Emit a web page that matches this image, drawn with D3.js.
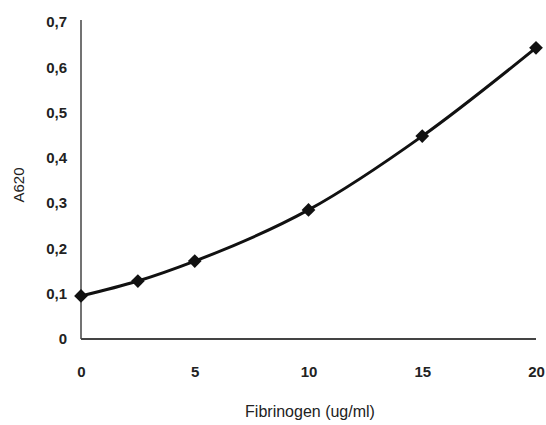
<!DOCTYPE html>
<html>
  <head>
    <meta charset="UTF-8" />
    <script src="https://cdnjs.cloudflare.com/ajax/libs/d3/7.8.5/d3.min.js"></script>
    <style>
      body { margin: 0; padding: 0; background: #fff; }
      svg { display: block; font-family: "Liberation Sans", Arial, sans-serif; }
      .tick text { font-size: 15px; font-weight: bold; fill: #222; }
    </style>
  </head>
  <body>
    <svg id="chart" width="546" height="425"></svg>
    <script>
      // fibrinogen concentration (ug/ml) vs absorbance at 620 nm
      const conc = [0, 2.5, 5, 10, 15, 20];
      const a620 = [0.095, 0.128, 0.172, 0.285, 0.448, 0.643];
      const xTicks = [0, 5, 10, 15, 20];
      const yTicks = [0, 0.1, 0.2, 0.3, 0.4, 0.5, 0.6, 0.7];

      const svg = d3.select("#chart");
      const x = d3.scaleLinear().domain([0, 20]).range([81, 536]);
      const y = d3.scaleLinear().domain([0, 0.7]).range([339, 22]);

      const fmt = d => d === 0 ? "0" : d3.format(".1f")(d).replace(".", ",");

      // axes (no tick marks, just labels)
      const yAxis = svg.append("g")
        .attr("transform", "translate(81,0)")
        .call(d3.axisLeft(y).tickValues(yTicks).tickFormat(fmt).tickSize(0).tickPadding(14));
      yAxis.select(".domain").attr("stroke", "#444").attr("stroke-width", 1.5).attr("d", "M0,20V339");

      const xAxis = svg.append("g")
        .attr("transform", "translate(0,339)")
        .call(d3.axisBottom(x).tickValues(xTicks).tickSize(0).tickPadding(27));
      xAxis.select(".domain").attr("stroke", "#444").attr("stroke-width", 2).attr("d", "M81,0H536");

      // axis titles
      svg.append("text")
        .attr("x", 310).attr("y", 417)
        .attr("text-anchor", "middle")
        .attr("font-size", 16).attr("fill", "#222")
        .text("Fibrinogen (ug/ml)");
      svg.append("text")
        .attr("transform", "translate(24,185) rotate(-90)")
        .attr("text-anchor", "middle")
        .attr("font-size", 15).attr("fill", "#222")
        .text("A620");

      const pts = conc.map((c, i) => [c, a620[i]]);

      const line = d3.line()
        .x(d => x(d[0]))
        .y(d => y(d[1]))
        .curve(d3.curveMonotoneX);

      svg.append("path")
        .datum(pts)
        .attr("fill", "none")
        .attr("stroke", "#111")
        .attr("stroke-width", 3)
        .attr("d", line);

      svg.selectAll(".pt")
        .data(pts)
        .join("path")
        .attr("class", "pt")
        .attr("transform", d => `translate(${x(d[0])},${y(d[1])})`)
        .attr("d", d3.symbol(d3.symbolDiamond2, 120))
        .attr("fill", "#111");
    </script>
  </body>
</html>
